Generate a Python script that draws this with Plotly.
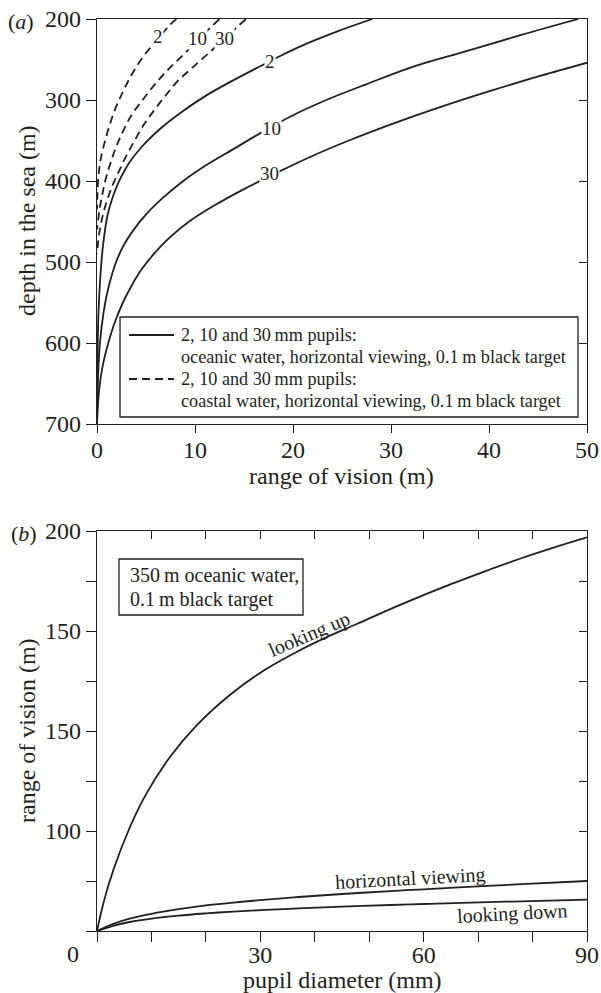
import plotly.graph_objects as go

W, H = 601, 993
FONT = "Liberation Serif"
INK = "#231f20"

# ---------------- panel (a) data: depth (m) vs range of vision (m) ----------------
ocean2_depth = [200, 215, 232, 245, 258, 277, 294, 316, 334, 358, 378, 399, 420, 442, 481, 520, 563, 620, 700]
ocean2_range = [28.1, 24.6, 21.1, 18.8, 16.7, 13.7, 11.2, 8.5, 6.6, 4.55, 3.25, 2.3, 1.6, 1.08, 0.6, 0.33, 0.15, 0.05, 0]

ocean10_depth = [200, 220, 240, 260, 280, 300, 320, 340, 360, 380, 400, 420, 440, 460, 480, 500, 530, 560, 600, 650, 700]
ocean10_range = [49.1, 43.2, 37.6, 32.0, 27.6, 23.4, 19.8, 16.8, 14.0, 11.2, 8.8, 6.8, 5.1, 3.75, 2.7, 1.95, 1.2, 0.7, 0.3, 0.08, 0]

ocean30_depth = [250, 270, 290, 310, 330, 350, 370, 390, 410, 430, 450, 470, 490, 510, 530, 550, 575, 600, 630, 660, 700]
ocean30_range = [51.2, 45.3, 39.8, 34.7, 30.0, 25.7, 21.8, 18.3, 15.0, 12.0, 9.4, 7.4, 5.8, 4.5, 3.5, 2.65, 1.8, 1.15, 0.55, 0.2, 0]

coast2_depth = [200, 207, 225, 245, 267, 290, 312, 335, 358, 377, 398, 419, 435]
coast2_range = [8.1, 7.45, 6.2, 4.8, 3.62, 2.64, 1.83, 1.19, 0.66, 0.32, 0.12, 0.04, 0]

coast10_depth = [200, 222, 243, 262, 280, 300, 320, 340, 358, 377, 397, 416, 436, 460]
coast10_range = [12.5, 10.6, 8.9, 7.3, 5.95, 4.65, 3.45, 2.6, 1.95, 1.4, 0.9, 0.55, 0.25, 0]

coast30_depth = [200, 222, 241, 261, 277, 296, 314, 331, 351, 370, 389, 405, 423, 442, 465, 490]
coast30_range = [15.2, 13.2, 11.5, 9.65, 8.2, 6.9, 5.75, 4.75, 3.8, 2.95, 2.2, 1.6, 1.05, 0.6, 0.22, 0]

a_xticks = [0, 10, 20, 30, 40, 50]
a_yticks = [200, 300, 400, 500, 600, 700]

# ---------------- panel (b) data: range of vision vs pupil diameter ----------------
up_pupil = [0, 1.16, 3, 6.06, 9.1, 13.4, 18.3, 24.4, 30.5, 37, 42, 47.7, 56, 65, 72, 77, 84, 90]
up_range = [0, 13.8, 30.5, 52, 68.8, 87, 102.8, 118, 130, 140, 146.7, 153.5, 163.4, 173.4, 180.6, 185.5, 191.8, 196.8]

horiz_pupil = [0, 3, 6, 10, 15, 20, 25, 30, 37, 45, 54, 60, 70, 78, 90]
horiz_range = [0, 3.6, 6.2, 8.6, 10.9, 12.8, 14.2, 15.45, 17.0, 18.5, 19.95, 20.85, 22.3, 23.4, 25.0]

down_pupil = [0, 3, 6, 10, 15, 20, 25, 30, 37, 45, 54, 60, 67, 78, 90]
down_range = [0, 2.6, 4.5, 6.2, 7.7, 8.8, 9.7, 10.4, 11.3, 12.15, 13.0, 13.5, 14.05, 14.85, 15.7]

b_xticks = [0, 10, 20, 30, 40, 50, 60, 70, 80, 90]
b_xticktext = ["", "", "", "30", "", "", "60", "", "", "90"]
b_yticks = [0, 25, 50, 75, 100, 125, 150, 175, 200]
b_yticktext = ["", "", "100", "", "150", "", "150", "", "200"]


def px(x):
    return x / W


def py(y):
    return 1 - y / H


fig = go.Figure()

lw = 1.8
DASH = "8px,5px"
for r, d in [(ocean2_range, ocean2_depth), (ocean10_range, ocean10_depth), (ocean30_range, ocean30_depth)]:
    fig.add_trace(go.Scatter(x=r, y=d, mode="lines", line=dict(color=INK, width=lw, shape="spline"),
                             xaxis="x", yaxis="y", showlegend=False, hoverinfo="skip"))
for r, d in [(coast2_range, coast2_depth), (coast10_range, coast10_depth), (coast30_range, coast30_depth)]:
    fig.add_trace(go.Scatter(x=r, y=d, mode="lines",
                             line=dict(color=INK, width=lw, dash=DASH, shape="spline"),
                             xaxis="x", yaxis="y", showlegend=False, hoverinfo="skip"))
for p, v in [(up_pupil, up_range), (horiz_pupil, horiz_range), (down_pupil, down_range)]:
    fig.add_trace(go.Scatter(x=p, y=v, mode="lines", line=dict(color=INK, width=lw, shape="spline"),
                             xaxis="x2", yaxis="y2", showlegend=False, hoverinfo="skip"))

# empty traces so that the mirrored (inside-tick) axes are registered and drawn
fig.add_trace(go.Scatter(x=[], y=[], mode="lines", xaxis="x", yaxis="y3", showlegend=False, hoverinfo="skip"))
fig.add_trace(go.Scatter(x=[], y=[], mode="lines", xaxis="x4", yaxis="y2", showlegend=False, hoverinfo="skip"))
fig.add_trace(go.Scatter(x=[], y=[], mode="lines", xaxis="x2", yaxis="y4", showlegend=False, hoverinfo="skip"))

XD = [97 / W, 587 / W]
YA = [py(424), py(19)]
YB = [py(931), py(531)]
tickfont = dict(family=FONT, size=24, color=INK)
common = dict(showgrid=False, zeroline=False, showline=True, linecolor=INK, linewidth=1.4,
              tickcolor=INK, tickwidth=1.3, tickfont=tickfont, automargin=False)
hidden = dict(showticklabels=False, showgrid=False, zeroline=False, showline=False,
              tickcolor=INK, tickwidth=1.3, automargin=False)

fig.update_layout(
    width=W, height=H, autosize=False,
    margin=dict(l=0, r=0, t=0, b=0, pad=0, autoexpand=False),
    paper_bgcolor="white", plot_bgcolor="rgba(0,0,0,0)", showlegend=False,
    font=dict(family=FONT, color=INK),
    xaxis=dict(domain=XD, anchor="y", range=[0, 50], tickmode="array", tickvals=a_xticks,
               ticks="outside", ticklen=8, ticklabelstandoff=-4, mirror=True, **common),
    yaxis=dict(domain=YA, anchor="x", range=[700, 200], tickmode="array", tickvals=a_yticks,
               ticks="outside", ticklen=10, mirror=True, **common),
    yaxis3=dict(overlaying="y", anchor="x", side="right", range=[700, 200], tickmode="array",
                tickvals=a_yticks[1:-1], ticks="inside", ticklen=8, **hidden),
    xaxis2=dict(domain=XD, anchor="y2", range=[0, 90], tickmode="array", tickvals=b_xticks,
                ticktext=b_xticktext, ticks="outside", ticklen=10, ticklabelstandoff=-8,
                mirror=True, **common),
    yaxis2=dict(domain=YB, anchor="x2", range=[0, 200], tickmode="array", tickvals=b_yticks,
                ticktext=b_yticktext, ticks="outside", ticklen=10, mirror=True, **common),
    xaxis4=dict(domain=XD, anchor="y2", side="top", range=[0, 90], tickmode="array",
                tickvals=b_xticks[1:-1], ticks="inside", ticklen=8, **hidden),
    yaxis4=dict(domain=YB, anchor="x2", side="right", range=[0, 200], tickmode="array",
                tickvals=b_yticks[1:-1], ticks="inside", ticklen=8, **hidden),
)

shapes = []
# legend box of panel (a)
shapes.append(dict(type="rect", xref="paper", yref="paper", x0=px(120), x1=px(578), y0=py(417), y1=py(317),
                   line=dict(color=INK, width=1.3), fillcolor="white", layer="above"))
shapes.append(dict(type="line", xref="paper", yref="paper", x0=px(129), x1=px(174), y0=py(335), y1=py(335),
                   line=dict(color=INK, width=lw), layer="above"))
shapes.append(dict(type="line", xref="paper", yref="paper", x0=px(129), x1=px(174), y0=py(379), y1=py(379),
                   line=dict(color=INK, width=lw, dash=DASH), layer="above"))
# info box of panel (b)
shapes.append(dict(type="rect", xref="paper", yref="paper", x0=px(119), x1=px(303), y0=py(615), y1=py(559),
                   line=dict(color=INK, width=1.3), fillcolor="white", layer="above"))
fig.update_layout(shapes=shapes)

ann = []


def paper_text(text, x, y, size, angle=0, xanchor="center"):
    ann.append(dict(text=text, x=px(x), y=py(y), xref="paper", yref="paper", showarrow=False,
                    xanchor=xanchor, yanchor="middle", textangle=angle,
                    font=dict(family=FONT, size=size, color=INK)))


def data_text(text, x, y, xr, yr, size, angle=0, bg=None):
    d = dict(text=text, x=x, y=y, xref=xr, yref=yr, showarrow=False, xanchor="center", yanchor="middle",
             textangle=angle, font=dict(family=FONT, size=size, color=INK), borderpad=0)
    if bg:
        d["bgcolor"] = bg
    ann.append(d)


paper_text("(<i>a</i>)", 21, 21, 22)
paper_text("(<i>b</i>)", 24, 533, 22)
paper_text("depth in the sea (m)", 27, 221, 24, angle=-90)
paper_text("range of vision (m)", 341, 476, 24)
paper_text("range of vision (m)", 27, 731, 24, angle=-90)
paper_text("pupil diameter (mm)", 342, 980, 24)
paper_text("0", 73, 954, 24)

# legend texts
LF = 18.2
paper_text("2, 10 and 30\u2009mm pupils:", 179, 335, LF, xanchor="left")
paper_text("oceanic water, horizontal viewing, 0.1\u2009m black target", 179, 357, LF, xanchor="left")
paper_text("2, 10 and 30\u2009mm pupils:", 179, 379, LF, xanchor="left")
paper_text("coastal water, horizontal viewing, 0.1\u2009m black target", 179, 401, LF, xanchor="left")

# info box texts
paper_text("350\u2009m oceanic water,", 128, 575, 20, xanchor="left")
paper_text("0.1\u2009m black target", 128, 599, 20, xanchor="left")

# curve labels panel (a)
data_text("2", 6.24, 222, "x", "y", 19, bg="white")
data_text("10", 10.24, 224, "x", "y", 19, bg="white")
data_text("30", 13.04, 224, "x", "y", 19, bg="white")
data_text("2", 17.65, 253, "x", "y", 19, bg="white")
data_text("10", 17.8, 335, "x", "y", 19, bg="white")
data_text("30", 17.65, 390.5, "x", "y", 19, bg="white")

# curve labels panel (b)
data_text("looking up", 38.9, 148.5, "x2", "y2", 20, angle=-23)
data_text("horizontal viewing", 57.5, 26.5, "x2", "y2", 20, angle=-3)
data_text("looking down", 76.4, 9, "x2", "y2", 20, angle=-3)

fig.update_layout(annotations=ann)
fig.write_html(
    "out.html",
    config={"displayModeBar": False},
    post_script="document.documentElement.style.margin='0';document.body.style.margin='0';"
                "document.body.style.overflow='hidden';document.documentElement.style.overflow='hidden';",
)
